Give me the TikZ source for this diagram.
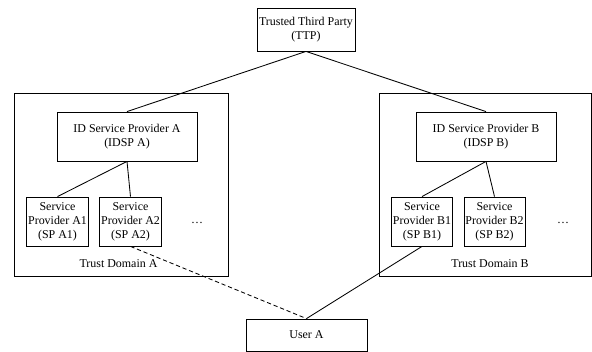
\documentclass[tikz,border=0pt]{standalone}
\usepackage{fontspec}
\setmainfont{Liberation Serif}
\begin{document}
\begin{tikzpicture}[scale=1,
    box/.style={draw,line width=0.6pt,align=center,inner sep=1pt,minimum height=1.225cm},
    trustdom/.style={draw,line width=0.6pt,minimum width=5.35cm,minimum height=4.575cm},
    every node/.style={font=\fontsize{8.5}{10}\selectfont}]
    \useasboundingbox (0,0) rectangle (14.8,8.8);
    % trust domains
    \node[trustdom] (domA) at (3.025,4.1875) {};
    \node[trustdom,minimum width=5.3cm] (domB) at (12.125,4.1875) {};
    \node (labA) at (2.9625,2.2) {Trust Domain A};
    \node (labB) at (12.25,2.2) {Trust Domain B};
    % providers
    \node[box,minimum width=2.45cm,minimum height=1.075cm] (ttp) at (7.65,8.0625) {Trusted Third Party\\(TTP)};
    \node[box,minimum width=3.5cm] (idspA) at (3.175,5.3875) {ID Service Provider A\\(IDSP A)};
    \node[box,minimum width=3.5cm] (idspB) at (12.15,5.3875) {ID Service Provider B\\(IDSP B)};
    \node[box,minimum width=1.525cm] (spA1) at (1.4375,3.2625) {Service\\Provider A1\\(SP A1)};
    \node[box,minimum width=1.525cm] (spA2) at (3.2625,3.2625) {Service\\Provider A2\\(SP A2)};
    \node[box,minimum width=1.525cm] (spB1) at (10.55,3.2625) {Service\\Provider B1\\(SP B1)};
    \node[box,minimum width=1.525cm] (spB2) at (12.3625,3.2625) {Service\\Provider B2\\(SP B2)};
    \node (dotsA) at (4.925,3.225) {\dots};
    \node (dotsB) at (14.075,3.225) {\dots};
    \node[box,minimum width=3.025cm,minimum height=0.8cm] (user) at (7.6625,0.425) {User A};
    % connections
    \draw[line width=0.6pt] (ttp.south) -- (idspA.north);
    \draw[line width=0.6pt] (ttp.south) -- (idspB.north);
    \draw[line width=0.6pt] (idspA.south) -- (spA1.north);
    \draw[line width=0.6pt] (idspA.south) -- (spA2.north);
    \draw[line width=0.6pt] (idspB.south) -- (spB1.north);
    \draw[line width=0.6pt] (idspB.south) -- (spB2.north);
    \draw[line width=0.6pt,dash pattern=on 3pt off 2pt] (spA2.south) -- (user.north);
    \draw[line width=0.6pt] (spB1.south) -- (user.north);
\end{tikzpicture}
\end{document}
